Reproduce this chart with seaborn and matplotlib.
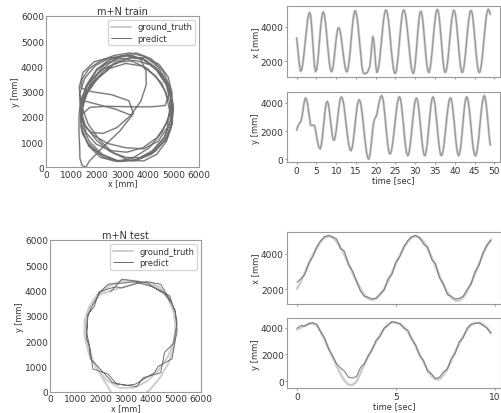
import matplotlib
matplotlib.use('Agg')
import matplotlib.pyplot as plt
import seaborn as sns

train_t = [0.0, 0.25, 0.5, 0.75, 1.0, 1.25, 1.5, 1.75, 2.0, 2.25, 2.5, 2.75, 3.0, 3.25, 3.5, 3.75, 4.0, 4.25, 4.5, 4.75,
           5.0, 5.25, 5.5, 5.75, 6.0, 6.25, 6.5, 6.75, 7.0, 7.25, 7.5, 7.75, 8.0, 8.25, 8.5, 8.75, 9.0, 9.25, 9.5, 9.75,
           10.0, 10.25, 10.5, 10.75, 11.0, 11.25, 11.5, 11.75, 12.0, 12.25, 12.5, 12.75, 13.0, 13.25, 13.5, 13.75, 14.0, 14.25, 14.5, 14.75,
           15.0, 15.25, 15.5, 15.75, 16.0, 16.25, 16.5, 16.75, 17.0, 17.25, 17.5, 17.75, 18.0, 18.25, 18.5, 18.75, 19.0, 19.25, 19.5, 19.75,
           20.0, 20.25, 20.5, 20.75, 21.0, 21.25, 21.5, 21.75, 22.0, 22.25, 22.5, 22.75, 23.0, 23.25, 23.5, 23.75, 24.0, 24.25, 24.5, 24.75,
           25.0, 25.25, 25.5, 25.75, 26.0, 26.25, 26.5, 26.75, 27.0, 27.25, 27.5, 27.75, 28.0, 28.25, 28.5, 28.75, 29.0, 29.25, 29.5, 29.75,
           30.0, 30.25, 30.5, 30.75, 31.0, 31.25, 31.5, 31.75, 32.0, 32.25, 32.5, 32.75, 33.0, 33.25, 33.5, 33.75, 34.0, 34.25, 34.5, 34.75,
           35.0, 35.25, 35.5, 35.75, 36.0, 36.25, 36.5, 36.75, 37.0, 37.25, 37.5, 37.75, 38.0, 38.25, 38.5, 38.75, 39.0, 39.25, 39.5, 39.75,
           40.0, 40.25, 40.5, 40.75, 41.0, 41.25, 41.5, 41.75, 42.0, 42.25, 42.5, 42.75, 43.0, 43.25, 43.5, 43.75, 44.0, 44.25, 44.5, 44.75,
           45.0, 45.25, 45.5, 45.75, 46.0, 46.25, 46.5, 46.75, 47.0, 47.25, 47.5, 47.75, 48.0, 48.25, 48.5, 48.75, 49.0]
train_x = [3350, 2750, 2200, 1700, 1430, 1530, 1800, 2240, 2780, 3355, 3890, 4365, 4690, 4815, 4670, 4115, 3290, 2415, 1725, 1410,
           1490, 1855, 2420, 3125, 3825, 4395, 4760, 4845, 4680, 4300, 3750, 3125, 2500, 1950, 1570, 1405, 1475, 1775, 2240, 2785,
           3310, 3720, 3930, 3920, 3730, 3395, 2960, 2485, 2040, 1680, 1450, 1405, 1580, 1965, 2520, 3160, 3800, 4355, 4740, 4915,
           4850, 4560, 4100, 3495, 2860, 2240, 1730, 1415, 1300, 1290, 1320, 1330, 1420, 1560, 1700, 2200, 2900, 3430, 3250, 2570,
           1790, 1365, 1420, 1680, 2110, 2670, 3290, 3885, 4390, 4770, 4950, 4930, 4710, 4290, 3760, 3135, 2510, 2000, 1560, 1340,
           1320, 1525, 1940, 2490, 3135, 3780, 4310, 4750, 4950, 4935, 4720, 4340, 3830, 3255, 2660, 2115, 1650, 1395, 1300, 1450,
           1890, 2525, 3240, 3965, 4540, 4845, 4880, 4640, 4170, 3540, 2850, 2200, 1690, 1400, 1360, 1575, 1990, 2535, 3175, 3815,
           4340, 4780, 4980, 4950, 4650, 4125, 3470, 2750, 2120, 1610, 1370, 1390, 1630, 2070, 2650, 3280, 3900, 4425, 4790, 4945,
           4870, 4565, 4050, 3420, 2750, 2140, 1670, 1395, 1370, 1570, 1980, 2520, 3150, 3780, 4300, 4735, 4930, 4905, 4640, 4165,
           3550, 2885, 2250, 1745, 1420, 1355, 1500, 1835, 2300, 2930, 3540, 4125, 4600, 4890, 5000, 4900, 4700]
train_y = [2060, 2300, 2450, 2580, 2650, 2900, 3300, 3800, 4200, 4360, 4250, 3900, 3400, 2850, 2450, 2400, 2400, 2420, 2380, 2100,
           1700, 1280, 950, 780, 740, 1035, 1580, 2275, 3000, 3625, 4020, 4115, 3920, 3450, 2860, 2225, 1700, 1385, 1350, 1580,
           2050, 2625, 3270, 3820, 4250, 4435, 4370, 4120, 3710, 3135, 2520, 1905, 1370, 925, 670, 605, 780, 1180, 1760, 2420,
           3080, 3660, 4060, 4235, 4170, 3890, 3430, 2800, 2120, 1440, 850, 360, 80, 5, 250, 770, 1450, 2130, 2640, 2880,
           3000, 3150, 3500, 3900, 4200, 4430, 4530, 4390, 3980, 3320, 2610, 1820, 1150, 640, 380, 400, 630, 1060, 1620, 2265,
           2920, 3535, 4030, 4335, 4440, 4295, 3880, 3220, 2510, 1710, 1040, 520, 260, 285, 560, 1065, 1720, 2450, 3150, 3760,
           4180, 4355, 4270, 3920, 3330, 2610, 1850, 1145, 610, 290, 250, 520, 1040, 1710, 2510, 3240, 3890, 4295, 4440, 4295,
           3880, 3220, 2510, 1710, 1040, 520, 260, 280, 540, 1000, 1600, 2300, 2990, 3575, 4070, 4320, 4350, 4085, 3580, 2920,
           2140, 1415, 780, 380, 240, 400, 850, 1540, 2340, 3140, 3830, 4270, 4440, 4310, 3940, 3350, 2630, 1920, 1210, 660,
           320, 240, 410, 810, 1350, 2100, 2810, 3500, 4060, 4400, 4530, 4300, 3800, 3100, 2300, 1550, 1000]

# test: sampled every 0.2 sec
test_t = [0.0, 0.2, 0.4, 0.6, 0.8, 1.0, 1.2, 1.4, 1.6, 1.8, 2.0, 2.2, 2.4, 2.6, 2.8, 3.0, 3.2, 3.4, 3.6, 3.8,
          4.0, 4.2, 4.4, 4.6, 4.8, 5.0, 5.2, 5.4, 5.6, 5.8, 6.0, 6.2, 6.4, 6.6, 6.8, 7.0, 7.2, 7.4, 7.6, 7.8,
          8.0, 8.2, 8.4, 8.6, 8.8, 9.0, 9.2, 9.4, 9.6, 9.8]
test_x_gt = [2030, 2450, 2950, 3450, 3940, 4350, 4700, 4930, 5000, 4930, 4720, 4370, 3950, 3450, 2950, 2450, 2050, 1700, 1470, 1400,
             1470, 1680, 2030, 2450, 2950, 3450, 3940, 4350, 4700, 4930, 5000, 4920, 4690, 4310, 3840, 3320, 2770, 2260, 1830, 1530,
             1370, 1370, 1550, 1880, 2350, 2880, 3460, 4000, 4470, 4800]
test_x_pred = [2400, 2600, 2850, 3500, 3850, 4400, 4750, 4980, 5050, 4950, 4850, 4300, 4150, 3400, 3050, 2500, 1900, 1600, 1550, 1450,
               1500, 1750, 1950, 2600, 2850, 3550, 3850, 4400, 4750, 4980, 5050, 4900, 4550, 4400, 3700, 3450, 2650, 2300, 1700, 1600,
               1450, 1500, 1600, 2000, 2300, 3000, 3350, 4050, 4500, 4780]
test_y_gt = [3850, 4000, 4150, 4280, 4320, 4150, 3700, 3100, 2450, 1800, 1150, 550, 50, -250, -280, -50, 600, 1250, 1850, 2400,
             2950, 3450, 3900, 4250, 4400, 4380, 4250, 4050, 3700, 3200, 2600, 2000, 1400, 850, 400, 150, 150, 450, 950, 1550,
             2200, 2800, 3350, 3850, 4200, 4350, 4350, 4250, 4000, 3650]
test_y_pred = [3950, 4150, 4100, 4300, 4350, 4250, 3650, 3200, 2400, 1900, 1300, 1000, 750, 300, 250, 350, 1000, 1300, 1900, 2350,
               3050, 3350, 3950, 4150, 4450, 4350, 4300, 3950, 3800, 3100, 2700, 1900, 1550, 750, 550, 200, 300, 700, 900, 1700,
               2100, 2950, 3250, 3950, 4250, 4300, 4350, 4150, 3950, 3550]

GT_COLOR = '#cdcdcd'
PRED_COLOR = '#6e6e6e'

sns.set_style('ticks')
plt.rcParams['font.family'] = ['DejaVu Sans']
plt.rcParams.update({
    'axes.edgecolor': '#9a9a9a',
    'axes.linewidth': 0.8,
    'xtick.color': '#9a9a9a',
    'ytick.color': '#9a9a9a',
    'xtick.labelcolor': '#333333',
    'ytick.labelcolor': '#333333',
    'axes.labelcolor': '#333333',
    'text.color': '#333333',
    'xtick.labelsize': 6.5,
    'ytick.labelsize': 6.5,
    'axes.labelsize': 6.0,
    'xtick.major.size': 1.5,
    'ytick.major.size': 1.5,
    'xtick.major.pad': 1.0,
    'ytick.major.pad': 1.0,
    'axes.labelpad': 0.5,
})


def trajectory(ax, gx, gy, px, py, title):
    sns.lineplot(x=gx, y=gy, sort=False, estimator=None, color=GT_COLOR, lw=1.4, ax=ax, label='ground_truth')
    sns.lineplot(x=px, y=py, sort=False, estimator=None, color=PRED_COLOR, lw=0.7, ax=ax, label='predict')
    ax.set_xlim(0, 6000)
    ax.set_ylim(0, 6000)
    ax.set_xticks(range(0, 6001, 1000))
    ax.set_yticks(range(0, 6001, 1000))
    ax.tick_params(length=0, pad=1.5)
    ax.set_xlabel('x [mm]', fontsize=5.8, labelpad=0)
    ax.set_ylabel('y [mm]', fontsize=5.8, labelpad=0.5)
    ax.set_title(title, fontsize=7, pad=1.5)
    ax.legend(loc='upper right', fontsize=6, frameon=True, handlelength=2.4, borderpad=0.3, labelspacing=0.3)


def series(ax, t, g, p, ylabel, yticks, pred_color, xticks=None, xlabel=None):
    sns.lineplot(x=t, y=g, sort=False, estimator=None, color=GT_COLOR, lw=1.8, ax=ax)
    sns.lineplot(x=t, y=p, sort=False, estimator=None, color=pred_color, lw=0.8, alpha=0.85, ax=ax)
    ax.set_yticks(yticks)
    ax.set_ylabel(ylabel)
    if xticks is not None:
        ax.set_xticks(xticks)
    if xlabel:
        ax.set_xlabel(xlabel)
    else:
        ax.set_xlabel('')
        ax.tick_params(labelbottom=False)


fig = plt.figure(figsize=(5.01, 4.14), dpi=100)
ax_tl = fig.add_axes([0.0918, 0.593, 0.3054, 0.3665])
ax_tr1 = fig.add_axes([0.5729, 0.8116, 0.4251, 0.1715])
ax_tr2 = fig.add_axes([0.5729, 0.6056, 0.4251, 0.169], sharex=ax_tr1)
ax_bl = fig.add_axes([0.0998, 0.0515, 0.3014, 0.3665])
ax_br1 = fig.add_axes([0.5735, 0.264, 0.4257, 0.173])
ax_br2 = fig.add_axes([0.5735, 0.0597, 0.4257, 0.169], sharex=ax_br1)

trajectory(ax_tl, train_x, train_y, train_x, train_y, 'm+N train')
series(ax_tr1, train_t, train_x, train_x, 'x [mm]', [2000, 4000], '#8c8c8c')
series(ax_tr2, train_t, train_y, train_y, 'y [mm]', [0, 2000, 4000], '#8c8c8c', list(range(0, 51, 5)), 'time [sec]')
ax_tr1.tick_params(labelbottom=False)

trajectory(ax_bl, test_x_gt, test_y_gt, test_x_pred, test_y_pred, 'm+N test')
series(ax_br1, test_t, test_x_gt, test_x_pred, 'x [mm]', [2000, 4000], PRED_COLOR)
series(ax_br2, test_t, test_y_gt, test_y_pred, 'y [mm]', [0, 2000, 4000], PRED_COLOR, [0, 5, 10], 'time [sec]')
ax_br1.tick_params(labelbottom=False)

fig.savefig('out.png', dpi=100)
